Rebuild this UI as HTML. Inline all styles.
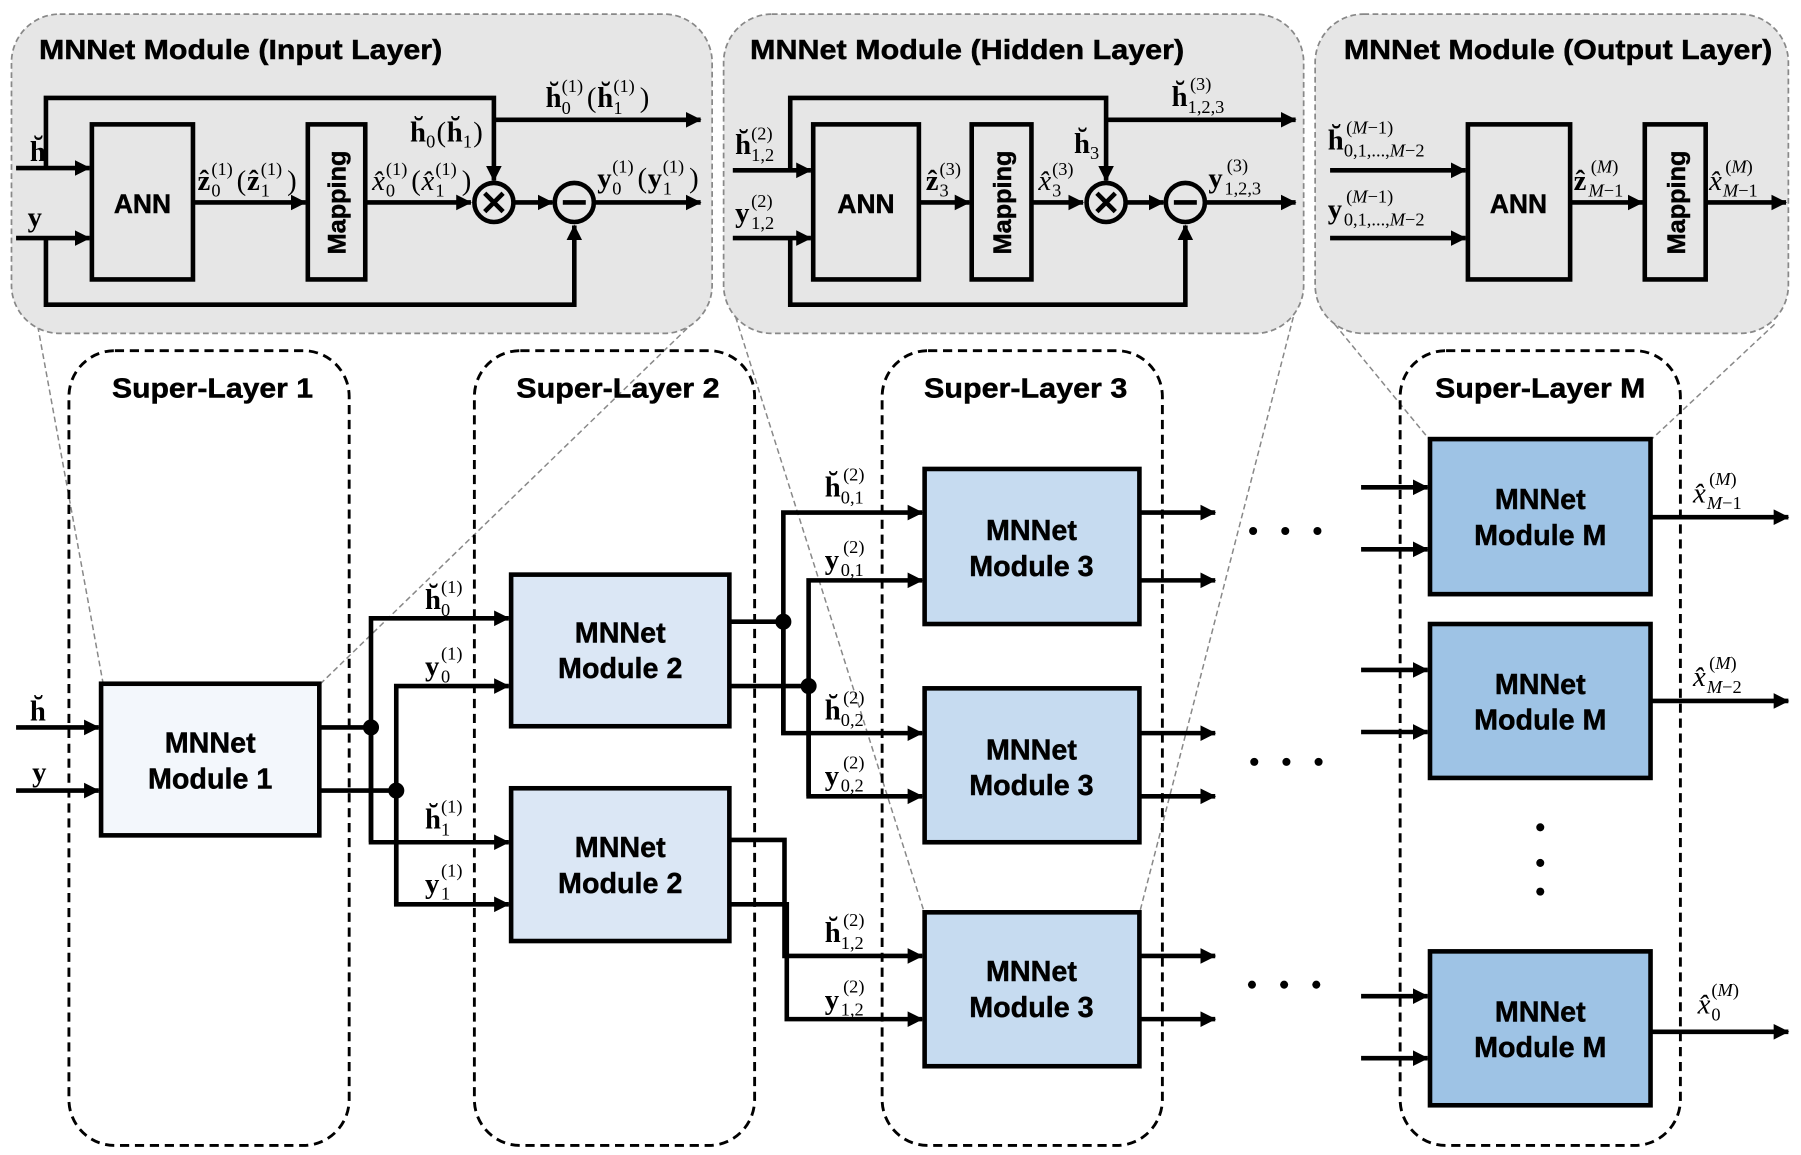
<!DOCTYPE html>
<html><head><meta charset="utf-8"><style>
html,body{margin:0;padding:0;background:#fff;width:1801px;height:1155px;overflow:hidden}
svg{display:block}
.t{font-family:"Liberation Sans",Arial,sans-serif;font-weight:bold;fill:#000;stroke:#000;stroke-width:0.4}
.m{font-family:"Liberation Serif","DejaVu Serif",serif;fill:#000}
.b{font-weight:bold}
.s{font-size:16px}
.i{font-style:italic}
</style></head><body>
<svg width="1801" height="1155" viewBox="0 0 1568 1005" xmlns="http://www.w3.org/2000/svg">
<defs>
<marker id="a" markerWidth="4" markerHeight="4" refX="3.2" refY="2" orient="auto" markerUnits="strokeWidth"><path d="M0,0.3 L3.4,2 L0,3.7 Z" fill="#000"/></marker>
</defs>
<rect width="1568" height="1005" fill="#fff"/>
<g stroke="#888" stroke-width="1.3" stroke-dasharray="5,3" fill="none">
<line x1="30" y1="268" x2="90" y2="596"/>
<line x1="604" y1="280" x2="278" y2="596"/>
<line x1="638" y1="268" x2="805" y2="795"/>
<line x1="1128" y1="268" x2="992" y2="795"/>
<line x1="1162" y1="282" x2="1245" y2="383"/>
<line x1="1545" y1="282" x2="1437" y2="383"/>
</g>
<g fill="#e6e6e6" stroke="#888" stroke-width="1.5" stroke-dasharray="5,3">
<rect x="10" y="12" width="610" height="278" rx="42"/>
<rect x="630" y="12" width="505" height="278" rx="42"/>
<rect x="1145" y="12" width="412" height="278" rx="42"/>
</g>
<text class="t" x="34" y="51" font-size="24" textLength="351" lengthAdjust="spacingAndGlyphs">MNNet Module (Input Layer)</text>
<text class="t" x="653" y="51" font-size="24" textLength="378" lengthAdjust="spacingAndGlyphs">MNNet Module (Hidden Layer)</text>
<text class="t" x="1170" y="51" font-size="24" textLength="373" lengthAdjust="spacingAndGlyphs">MNNet Module (Output Layer)</text>

<g stroke="#000" stroke-width="4" fill="none">
<rect x="80" y="108" width="88" height="135"/>
<rect x="268" y="108" width="50" height="135"/>
<path d="M14,146 H78" marker-end="url(#a)"/>
<path d="M14,207 H78" marker-end="url(#a)"/>
<path d="M40,146 V85 H430 V157" marker-end="url(#a)"/>
<path d="M430,104 H610" marker-end="url(#a)"/>
<path d="M40,207 V265 H500 V196" marker-end="url(#a)"/>
<path d="M168,176 H266" marker-end="url(#a)"/>
<path d="M318,176 H410" marker-end="url(#a)"/>
<path d="M448,176 H481" marker-end="url(#a)"/>
<path d="M518,176 H610" marker-end="url(#a)"/>
<circle cx="430" cy="176" r="17"/>
<circle cx="500" cy="176" r="17"/>
<path d="M422,168 L438,184 M438,168 L422,184 M490,176 H510"/>
<rect x="708" y="108" width="92" height="135"/>
<rect x="846" y="108" width="52" height="135"/>
<path d="M638,148 H706" marker-end="url(#a)"/>
<path d="M638,207 H706" marker-end="url(#a)"/>
<path d="M688,148 V85 H963 V157" marker-end="url(#a)"/>
<path d="M963,104 H1128" marker-end="url(#a)"/>
<path d="M688,207 V265 H1032 V196" marker-end="url(#a)"/>
<path d="M800,176 H844" marker-end="url(#a)"/>
<path d="M898,176 H943" marker-end="url(#a)"/>
<path d="M980,176 H1013" marker-end="url(#a)"/>
<path d="M1050,176 H1128" marker-end="url(#a)"/>
<circle cx="963" cy="176" r="17"/>
<circle cx="1032" cy="176" r="17"/>
<path d="M955,168 L971,184 M971,168 L955,184 M1022,176 H1042"/>
<rect x="1278" y="108" width="89" height="135"/>
<rect x="1432" y="108" width="53" height="135"/>
<path d="M1158,148 H1276" marker-end="url(#a)"/>
<path d="M1158,207 H1276" marker-end="url(#a)"/>
<path d="M1367,176 H1430" marker-end="url(#a)"/>
<path d="M1485,176 H1555" marker-end="url(#a)"/>
</g>
<text class="t" x="124" y="185" font-size="23" text-anchor="middle">ANN</text>
<text class="t" x="754" y="185" font-size="23" text-anchor="middle">ANN</text>
<text class="t" x="1322" y="185" font-size="23" text-anchor="middle">ANN</text>
<text class="t" font-size="22" text-anchor="middle" transform="translate(301,176) rotate(-90)">Mapping</text>
<text class="t" font-size="22" text-anchor="middle" transform="translate(880,176) rotate(-90)">Mapping</text>
<text class="t" font-size="22" text-anchor="middle" transform="translate(1467,176) rotate(-90)">Mapping</text>

<g class="m" font-size="25">
<!-- panel 1 -->
<text x="26" y="140" class="b">h̆</text>
<text x="24" y="197" class="b">y</text>
<text x="172" y="165" class="b">ẑ</text><text x="184" y="171" class="s">0</text><text x="184" y="152" class="s">(1)</text>
<text x="206" y="165">(</text><text x="215" y="165" class="b">ẑ</text><text x="227" y="171" class="s">1</text><text x="227" y="152" class="s">(1)</text><text x="250" y="165">)</text>
<text x="324" y="165" class="i">x̂</text><text x="336" y="171" class="s">0</text><text x="336" y="152" class="s">(1)</text>
<text x="358" y="165">(</text><text x="367" y="165" class="i">x̂</text><text x="379" y="171" class="s">1</text><text x="379" y="152" class="s">(1)</text><text x="402" y="165">)</text>
<text x="357" y="123" class="b">h̆</text><text x="371" y="128" class="s">0</text><text x="380" y="123">(</text><text x="389" y="123" class="b">h̆</text><text x="403" y="128" class="s">1</text><text x="412" y="123">)</text>
<text x="475" y="93" class="b">h̆</text><text x="489" y="99" class="s">0</text><text x="489" y="80" class="s">(1)</text>
<text x="511" y="93">(</text><text x="520" y="93" class="b">h̆</text><text x="534" y="99" class="s">1</text><text x="534" y="80" class="s">(1)</text><text x="557" y="93">)</text>
<text x="520" y="163" class="b">y</text><text x="533" y="169" class="s">0</text><text x="533" y="150" class="s">(1)</text>
<text x="555" y="163">(</text><text x="564" y="163" class="b">y</text><text x="577" y="169" class="s">1</text><text x="577" y="150" class="s">(1)</text><text x="600" y="163">)</text>
<!-- panel 2 -->
<text x="640" y="134" class="b">h̆</text><text x="654" y="140" class="s">1,2</text><text x="654" y="121" class="s">(2)</text>
<text x="640" y="193" class="b">y</text><text x="654" y="199" class="s">1,2</text><text x="654" y="180" class="s">(2)</text>
<text x="806" y="165" class="b">ẑ</text><text x="818" y="171" class="s">3</text><text x="818" y="152" class="s">(3)</text>
<text x="904" y="165" class="i">x̂</text><text x="916" y="171" class="s">3</text><text x="916" y="152" class="s">(3)</text>
<text x="935" y="133" class="b">h̆</text><text x="949" y="138" class="s">3</text>
<text x="1020" y="92" class="b">h̆</text><text x="1034" y="98" class="s">1,2,3</text><text x="1036" y="78" class="s">(3)</text>
<text x="1052" y="163" class="b">y</text><text x="1066" y="169" class="s">1,2,3</text><text x="1068" y="149" class="s">(3)</text>
<!-- panel 3 -->
<text x="1156" y="130" class="b">h̆</text><text x="1170" y="136" class="s">0,1,...,<tspan class="i">M</tspan>−2</text><text x="1172" y="116" class="s">(<tspan class="i">M</tspan>−1)</text>
<text x="1156" y="190" class="b">y</text><text x="1170" y="196" class="s">0,1,...,<tspan class="i">M</tspan>−2</text><text x="1172" y="176" class="s">(<tspan class="i">M</tspan>−1)</text>
<text x="1370" y="165" class="b">ẑ</text><text x="1383" y="171" class="s"><tspan class="i">M</tspan>−1</text><text x="1385" y="150" class="s">(<tspan class="i">M</tspan>)</text>
<text x="1488" y="165" class="i">x̂</text><text x="1500" y="171" class="s"><tspan class="i">M</tspan>−1</text><text x="1502" y="150" class="s">(<tspan class="i">M</tspan>)</text>
</g>

<g fill="none" stroke="#000" stroke-width="2.5" stroke-dasharray="8,5">
<rect x="60" y="305" width="244" height="692" rx="40"/>
<rect x="413" y="305" width="244" height="692" rx="40"/>
<rect x="768" y="305" width="244" height="692" rx="40"/>
<rect x="1219" y="305" width="244" height="692" rx="40"/>
</g>
<text class="t" x="185" y="346" font-size="24" text-anchor="middle" textLength="175" lengthAdjust="spacingAndGlyphs">Super-Layer 1</text>
<text class="t" x="538" y="346" font-size="24" text-anchor="middle" textLength="177" lengthAdjust="spacingAndGlyphs">Super-Layer 2</text>
<text class="t" x="893" y="346" font-size="24" text-anchor="middle" textLength="177" lengthAdjust="spacingAndGlyphs">Super-Layer 3</text>
<text class="t" x="1341" y="346" font-size="24" text-anchor="middle" textLength="183" lengthAdjust="spacingAndGlyphs">Super-Layer M</text>

<g stroke="#000" stroke-width="4">
<rect x="88" y="595" width="190" height="132" fill="#f3f7fc"/>
<rect x="445" y="500" width="190" height="132" fill="#dbe7f5"/>
<rect x="445" y="686" width="190" height="133" fill="#dbe7f5"/>
<rect x="805" y="408" width="187" height="135" fill="#c6dbf0"/>
<rect x="805" y="599" width="187" height="134" fill="#c6dbf0"/>
<rect x="805" y="794" width="187" height="134" fill="#c6dbf0"/>
<rect x="1245" y="382" width="192" height="135" fill="#9ec3e5"/>
<rect x="1245" y="543" width="192" height="134" fill="#9ec3e5"/>
<rect x="1245" y="828" width="192" height="134" fill="#9ec3e5"/>
</g>
<g class="t" font-size="25" text-anchor="middle">
<text x="183" y="655">MNNet</text><text x="183" y="686">Module 1</text>
<text x="540" y="559">MNNet</text><text x="540" y="590">Module 2</text>
<text x="540" y="746">MNNet</text><text x="540" y="777">Module 2</text>
<text x="898" y="470">MNNet</text><text x="898" y="501">Module 3</text>
<text x="898" y="661">MNNet</text><text x="898" y="692">Module 3</text>
<text x="898" y="854">MNNet</text><text x="898" y="885">Module 3</text>
<text x="1341" y="443">MNNet</text><text x="1341" y="474">Module M</text>
<text x="1341" y="604">MNNet</text><text x="1341" y="635">Module M</text>
<text x="1341" y="889">MNNet</text><text x="1341" y="920">Module M</text>
</g>

<g stroke="#000" stroke-width="4" fill="none">
<path d="M14,633 H86" marker-end="url(#a)"/>
<path d="M14,688 H86" marker-end="url(#a)"/>
<path d="M278,633 H323"/><path d="M278,688 H345"/>
<path d="M323,733 V538 H443" marker-end="url(#a)"/>
<path d="M323,633 V733 H443" marker-end="url(#a)"/>
<path d="M345,787 V597 H443" marker-end="url(#a)"/>
<path d="M345,688 V787 H443" marker-end="url(#a)"/>
<path d="M635,541 H682"/><path d="M635,597 H704"/>
<path d="M682,638 V446 H803" marker-end="url(#a)"/>
<path d="M682,541 V638 H803" marker-end="url(#a)"/>
<path d="M704,693 V505 H803" marker-end="url(#a)"/>
<path d="M704,597 V693 H803" marker-end="url(#a)"/>
<path d="M635,731 H683 V832 H803" marker-end="url(#a)"/>
<path d="M635,787 H685 V887 H803" marker-end="url(#a)"/>
<path d="M992,446 H1058" marker-end="url(#a)"/>
<path d="M992,505 H1058" marker-end="url(#a)"/>
<path d="M992,638 H1058" marker-end="url(#a)"/>
<path d="M992,693 H1058" marker-end="url(#a)"/>
<path d="M992,832 H1058" marker-end="url(#a)"/>
<path d="M992,887 H1058" marker-end="url(#a)"/>
<path d="M1185,424 H1243" marker-end="url(#a)"/>
<path d="M1185,478 H1243" marker-end="url(#a)"/>
<path d="M1185,583 H1243" marker-end="url(#a)"/>
<path d="M1185,637 H1243" marker-end="url(#a)"/>
<path d="M1185,867 H1243" marker-end="url(#a)"/>
<path d="M1185,921 H1243" marker-end="url(#a)"/>
<path d="M1437,450 H1557" marker-end="url(#a)"/>
<path d="M1437,610 H1557" marker-end="url(#a)"/>
<path d="M1437,898 H1557" marker-end="url(#a)"/>
</g>
<g fill="#000">
<circle cx="323" cy="633" r="7"/><circle cx="345" cy="688" r="7"/>
<circle cx="682" cy="541" r="7"/><circle cx="704" cy="597" r="7"/>
<circle cx="1091" cy="462" r="3.5"/><circle cx="1119" cy="462" r="3.5"/><circle cx="1147" cy="462" r="3.5"/>
<circle cx="1092" cy="663" r="3.5"/><circle cx="1120" cy="663" r="3.5"/><circle cx="1148" cy="663" r="3.5"/>
<circle cx="1090" cy="857" r="3.5"/><circle cx="1118" cy="857" r="3.5"/><circle cx="1146" cy="857" r="3.5"/>
<circle cx="1341" cy="720" r="3.5"/><circle cx="1341" cy="751" r="3.5"/><circle cx="1341" cy="776" r="3.5"/>
</g>

<g class="m" font-size="25">
<text x="26" y="627" class="b">h̆</text>
<text x="28" y="680" class="b">y</text>
<text x="370" y="530" class="b">h̆</text><text x="384" y="536" class="s">0</text><text x="384" y="516" class="s">(1)</text>
<text x="370" y="588" class="b">y</text><text x="384" y="594" class="s">0</text><text x="384" y="574" class="s">(1)</text>
<text x="370" y="721" class="b">h̆</text><text x="384" y="727" class="s">1</text><text x="384" y="707" class="s">(1)</text>
<text x="370" y="777" class="b">y</text><text x="384" y="783" class="s">1</text><text x="384" y="763" class="s">(1)</text>
<text x="718" y="432" class="b">h̆</text><text x="732" y="438" class="s">0,1</text><text x="734" y="418" class="s">(2)</text>
<text x="718" y="495" class="b">y</text><text x="732" y="501" class="s">0,1</text><text x="734" y="481" class="s">(2)</text>
<text x="718" y="626" class="b">h̆</text><text x="732" y="632" class="s">0,2</text><text x="734" y="612" class="s">(2)</text>
<text x="718" y="683" class="b">y</text><text x="732" y="689" class="s">0,2</text><text x="734" y="669" class="s">(2)</text>
<text x="718" y="820" class="b">h̆</text><text x="732" y="826" class="s">1,2</text><text x="734" y="806" class="s">(2)</text>
<text x="718" y="878" class="b">y</text><text x="732" y="884" class="s">1,2</text><text x="734" y="864" class="s">(2)</text>
<text x="1474" y="437" class="i">x̂</text><text x="1486" y="443" class="s"><tspan class="i">M</tspan>−1</text><text x="1488" y="422" class="s">(<tspan class="i">M</tspan>)</text>
<text x="1474" y="597" class="i">x̂</text><text x="1486" y="603" class="s"><tspan class="i">M</tspan>−2</text><text x="1488" y="582" class="s">(<tspan class="i">M</tspan>)</text>
<text x="1478" y="882" class="i">x̂</text><text x="1490" y="888" class="s">0</text><text x="1490" y="867" class="s">(<tspan class="i">M</tspan>)</text>
</g>
</svg>
</body></html>
